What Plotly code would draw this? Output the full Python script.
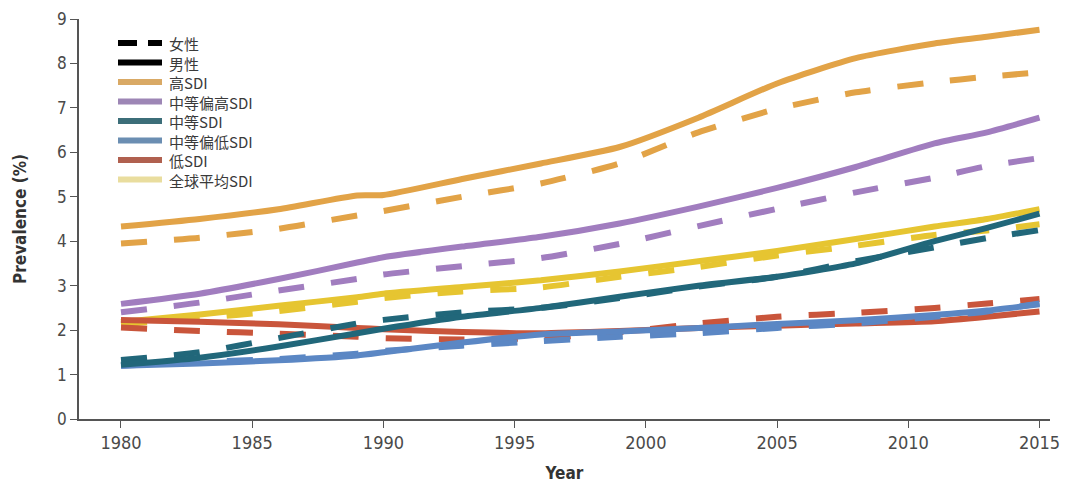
import plotly.graph_objects as go

years = [1980, 1983, 1986, 1989, 1990, 1993, 1996, 1999, 2002, 2005, 2008, 2011, 2013, 2015]

# Prevalence (%) by SDI group; male = solid, female = dashed
high_m = [4.33, 4.50, 4.72, 5.03, 5.04, 5.40, 5.75, 6.12, 6.78, 7.55, 8.12, 8.45, 8.60, 8.76]
high_f = [3.95, 4.08, 4.28, 4.58, 4.68, 5.00, 5.30, 5.75, 6.45, 6.98, 7.35, 7.58, 7.70, 7.80]
midhigh_m = [2.59, 2.82, 3.15, 3.52, 3.64, 3.88, 4.10, 4.40, 4.78, 5.20, 5.67, 6.20, 6.45, 6.78]
midhigh_f = [2.40, 2.62, 2.89, 3.15, 3.25, 3.44, 3.62, 3.94, 4.34, 4.73, 5.10, 5.43, 5.69, 5.87]
mid_m = [1.22, 1.38, 1.63, 1.93, 2.03, 2.30, 2.50, 2.75, 3.00, 3.20, 3.50, 4.00, 4.30, 4.62]
mid_f = [1.33, 1.50, 1.82, 2.15, 2.23, 2.40, 2.50, 2.72, 2.98, 3.20, 3.55, 3.86, 4.07, 4.25]
midlow_m = [1.20, 1.25, 1.32, 1.43, 1.50, 1.72, 1.90, 1.97, 2.05, 2.14, 2.22, 2.34, 2.44, 2.58]
midlow_f = [1.20, 1.28, 1.35, 1.47, 1.53, 1.65, 1.75, 1.85, 1.93, 2.05, 2.15, 2.30, 2.42, 2.60]
low_m = [2.23, 2.19, 2.13, 2.05, 2.02, 1.96, 1.93, 1.98, 2.05, 2.10, 2.15, 2.20, 2.30, 2.42]
low_f = [2.06, 1.98, 1.92, 1.85, 1.82, 1.79, 1.82, 1.95, 2.15, 2.30, 2.39, 2.50, 2.60, 2.70]
global_m = [2.18, 2.35, 2.55, 2.74, 2.82, 2.97, 3.12, 3.32, 3.55, 3.78, 4.05, 4.33, 4.50, 4.72]
global_f = [2.13, 2.27, 2.43, 2.64, 2.72, 2.87, 2.96, 3.20, 3.42, 3.68, 3.90, 4.14, 4.24, 4.38]

group_names = ["高SDI", "中等偏高SDI", "中等SDI", "中等偏低SDI", "低SDI", "全球平均SDI"]
sex_names = ["女性", "男性"]
x_ticks = [1980, 1985, 1990, 1995, 2000, 2005, 2010, 2015]
y_ticks = [0, 1, 2, 3, 4, 5, 6, 7, 8, 9]

line_colors = {
    "高SDI": "#E2A347",
    "中等偏高SDI": "#A17DBF",
    "中等SDI": "#21677A",
    "中等偏低SDI": "#5B87C4",
    "低SDI": "#C9553B",
    "全球平均SDI": "#E6C531",
}
legend_colors = {
    "高SDI": "#D9A965",
    "中等偏高SDI": "#9D86B5",
    "中等SDI": "#3C6E79",
    "中等偏低SDI": "#6B8EB2",
    "低SDI": "#B0604F",
    "全球平均SDI": "#E9DD9E",
}

series = {
    "高SDI": (high_m, high_f),
    "中等偏高SDI": (midhigh_m, midhigh_f),
    "中等SDI": (mid_m, mid_f),
    "中等偏低SDI": (midlow_m, midlow_f),
    "低SDI": (low_m, low_f),
    "全球平均SDI": (global_m, global_f),
}

fig = go.Figure()

draw_order = ["全球平均SDI", "高SDI", "中等偏高SDI", "低SDI", "中等偏低SDI", "中等SDI"]
for name in draw_order:
    m, f = series[name]
    c = line_colors[name]
    fig.add_trace(go.Scatter(x=years, y=f, mode="lines", name=name + " " + sex_names[0],
                             showlegend=False, hoverinfo="skip",
                             line=dict(color=c, width=6, dash="26px,27px", shape="spline", smoothing=0.6)))
    fig.add_trace(go.Scatter(x=years, y=m, mode="lines", name=name + " " + sex_names[1],
                             showlegend=False, hoverinfo="skip",
                             line=dict(color=c, width=6, shape="spline", smoothing=0.6)))

# ---- page geometry (the page body adds an 8px offset) ----
W, H = 1064, 478
L, R, T, B = 71, 22, 11, 67
pw, ph = W - L - R, H - T - B
OFF = 8


def px2x(px):
    return (px - OFF - L) / pw


def py2y(py):
    return (H - B - (py - OFF)) / ph


# ---- hand-placed legend ----
legend_labels = sex_names + group_names
legend_cols = ["black", "black"] + [legend_colors[n] for n in group_names]
step = 19.5
first = 43
shapes = []
for i, col in enumerate(legend_cols):
    yc = first + step * i
    segs = [(118, 137), (148, 162)] if i == 0 else [(118, 162)]
    for a, b in segs:
        shapes.append(dict(type="line", xref="paper", yref="paper",
                           x0=px2x(a), x1=px2x(b), y0=py2y(yc), y1=py2y(yc),
                           line=dict(color=col, width=6)))

annotations = [dict(xref="paper", yref="paper", x=px2x(167),
                    y=py2y(first + step * (len(legend_labels) - 1) / 2 + 1),
                    xanchor="left", yanchor="middle", align="left", showarrow=False,
                    text="<br>".join(legend_labels),
                    font=dict(family="Noto Sans CJK SC, sans-serif", size=15, color="#3a3a3a"))]

xtick_font = dict(family="Liberation Sans Narrow, DejaVu Sans Condensed, Arial Narrow, sans-serif",
                  size=18, color="#4a4a4a")
ytick_font = dict(family="Liberation Sans Narrow, DejaVu Sans Condensed, Arial Narrow, sans-serif",
                  size=17, color="#4a4a4a")
title_font = dict(family="DejaVu Sans Condensed, Liberation Sans Narrow, sans-serif",
                  size=17, color="#333")

fig.update_layout(
    width=W, height=H,
    margin=dict(l=L, r=R, t=T, b=B, autoexpand=False),
    paper_bgcolor="white", plot_bgcolor="white",
    showlegend=False,
    shapes=shapes,
    annotations=annotations,
    xaxis=dict(range=[1978.4, 2015.4], tickvals=x_ticks, ticktext=[str(v) for v in x_ticks],
               automargin=False,
               showgrid=False, zeroline=False, showline=True, linecolor="#555", linewidth=1.5,
               ticks="outside", ticklen=7, tickcolor="#555", tickfont=xtick_font,
               title=dict(text="<b>Year</b>", standoff=15, font=title_font)),
    yaxis=dict(range=[0, 9], tickvals=y_ticks, automargin=False,
               showgrid=False, zeroline=False,
               showline=True, linecolor="#555", linewidth=1.5,
               ticks="outside", ticklen=7, tickcolor="#555", tickfont=ytick_font,
               title=dict(text="<b>Prevalence (%)</b>", standoff=26, font=title_font)),
)

fig.write_html("out.html")
